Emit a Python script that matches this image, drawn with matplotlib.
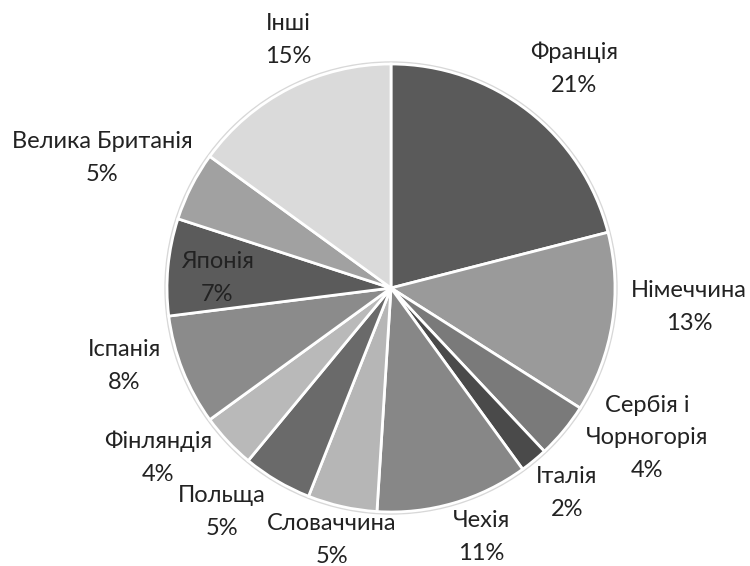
import matplotlib
matplotlib.use("Agg")
import matplotlib.pyplot as plt

# Частки країн (у %), за годинниковою стрілкою від верху
countries = ["Франція", "Німеччина", "Сербія і\nЧорногорія", "Італія", "Чехія",
             "Словаччина", "Польща", "Фінляндія", "Іспанія", "Японія",
             "Велика Британія", "Інші"]
shares = [21, 13, 4, 2, 11, 5, 5, 4, 8, 7, 5, 15]
colors = ["#5a5a5a", "#9a9a9a", "#7a7a7a", "#4a4a4a", "#878787", "#b6b6b6",
          "#6a6a6a", "#b9b9b9", "#8b8b8b", "#5b5b5b", "#a1a1a1", "#dadada"]

# центри підписів (пікселі зображення, y від верху)
label_xy = [(574, 69), (689, 307), (647, 438), (567, 493), (481, 537),
            (332, 540), (222, 512), (158, 458), (124, 366), (217, 278),
            (102, 158), (288, 40)]

W, H = 750, 566
fig = plt.figure(figsize=(W / 100, H / 100), dpi=100)
ax = fig.add_axes([0, 0, 1, 1])

cx, cy, r = 391, H - 288, 224
# легка тінь навколо круга
shadow = plt.Circle((cx, cy), r + 2, color="#d8d8d8", zorder=0)
ax.add_patch(shadow)
ax.pie(shares, colors=colors, startangle=90, counterclock=False,
       center=(cx, cy), radius=r,
       wedgeprops=dict(edgecolor="white", linewidth=2))

for name, val, (x, y) in zip(countries, shares, label_xy):
    ax.text(x, H - y, f"{name}\n{val}%", ha="center", va="center",
            fontsize=17, family=["Lato", "DejaVu Sans"], color="#222222",
            linespacing=1.7)

ax.set_xlim(0, W)
ax.set_ylim(0, H)
ax.set_aspect("equal")
ax.axis("off")

fig.savefig("out.png", dpi=100)
